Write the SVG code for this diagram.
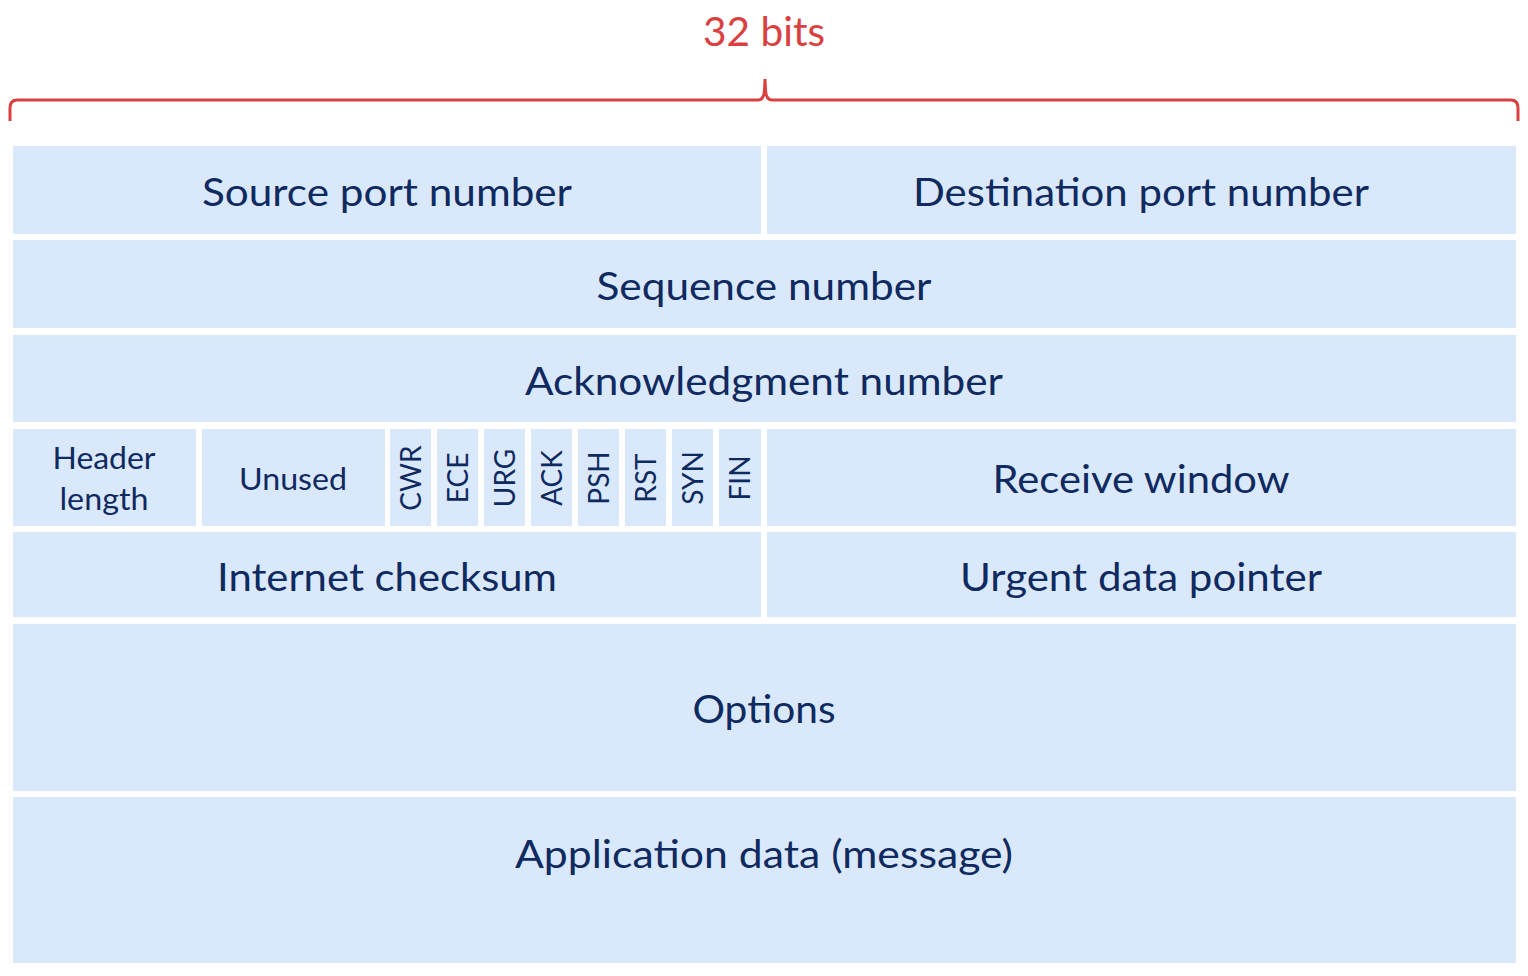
<svg xmlns="http://www.w3.org/2000/svg" width="1528" height="976" viewBox="0 0 1528 976">
<style>
.box{fill:#dae8fc;}
.t{font-family:Lato,"Open Sans","Liberation Sans",sans-serif;fill:#0f2a5f;text-anchor:middle;}
.big{font-size:38px;}
.mid{font-size:31px;}
.flag{font-size:28px;}
.red{font-family:Lato,"Open Sans","Liberation Sans",sans-serif;fill:#d9403f;font-size:40px;text-anchor:middle;}
</style>
<rect width="1528" height="976" fill="#ffffff"/>
<g id="bits-label">
<text class="red" x="764" y="46" textLength="122" lengthAdjust="spacingAndGlyphs">32 bits</text>
<path d="M10 121 L10 108 Q10 100 17 100 L758 100 Q764 100 764.5 90 L765 79 L765.5 90 Q766 100 772 100 L1511 100 Q1518 100 1518 108 L1518 121" fill="none" stroke="#d9403f" stroke-width="3"/>
</g>
<g id="source-port"><rect class="box" x="13" y="146" width="748" height="88"/><text class="t big" x="387" y="206" textLength="370" lengthAdjust="spacingAndGlyphs">Source port number</text></g>
<g id="dest-port"><rect class="box" x="767" y="146" width="749" height="88"/><text class="t big" x="1141" y="206" textLength="456" lengthAdjust="spacingAndGlyphs">Destination port number</text></g>
<g id="sequence"><rect class="box" x="13" y="240" width="1503" height="88"/><text class="t big" x="764" y="300" textLength="335" lengthAdjust="spacingAndGlyphs">Sequence number</text></g>
<g id="ack-number"><rect class="box" x="13" y="335" width="1503" height="87"/><text class="t big" x="764" y="395" textLength="478" lengthAdjust="spacingAndGlyphs">Acknowledgment number</text></g>
<g id="header-length"><rect class="box" x="13" y="429" width="183" height="97"/><text class="t mid" x="104" y="469" textLength="103" lengthAdjust="spacingAndGlyphs">Header</text><text class="t mid" x="104" y="510" textLength="89" lengthAdjust="spacingAndGlyphs">length</text></g>
<g id="unused"><rect class="box" x="202" y="429" width="183" height="97"/><text class="t mid" x="293" y="490" textLength="108" lengthAdjust="spacingAndGlyphs">Unused</text></g>
<g id="cwr"><rect class="box" x="390" y="429" width="41" height="97"/><text class="t flag" transform="translate(421 478) rotate(-90)">CWR</text></g>
<g id="ece"><rect class="box" x="437" y="429" width="41" height="97"/><text class="t flag" transform="translate(468 478) rotate(-90)">ECE</text></g>
<g id="urg"><rect class="box" x="484" y="429" width="41" height="97"/><text class="t flag" transform="translate(515 478) rotate(-90)">URG</text></g>
<g id="ack"><rect class="box" x="531" y="429" width="41" height="97"/><text class="t flag" transform="translate(562 478) rotate(-90)">ACK</text></g>
<g id="psh"><rect class="box" x="578" y="429" width="41" height="97"/><text class="t flag" transform="translate(609 478) rotate(-90)">PSH</text></g>
<g id="rst"><rect class="box" x="625" y="429" width="41" height="97"/><text class="t flag" transform="translate(656 478) rotate(-90)">RST</text></g>
<g id="syn"><rect class="box" x="672" y="429" width="41" height="97"/><text class="t flag" transform="translate(703 478) rotate(-90)">SYN</text></g>
<g id="fin"><rect class="box" x="719" y="429" width="42" height="97"/><text class="t flag" transform="translate(750 478) rotate(-90)">FIN</text></g>
<g id="receive-window"><rect class="box" x="767" y="429" width="749" height="97"/><text class="t big" x="1141" y="493" textLength="297" lengthAdjust="spacingAndGlyphs">Receive window</text></g>
<g id="checksum"><rect class="box" x="13" y="532" width="748" height="85"/><text class="t big" x="387" y="591" textLength="340" lengthAdjust="spacingAndGlyphs">Internet checksum</text></g>
<g id="urgent"><rect class="box" x="767" y="532" width="749" height="85"/><text class="t big" x="1141" y="591" textLength="362" lengthAdjust="spacingAndGlyphs">Urgent data pointer</text></g>
<g id="options"><rect class="box" x="13" y="624" width="1503" height="167"/><text class="t big" x="764" y="723" textLength="143" lengthAdjust="spacingAndGlyphs">Options</text></g>
<g id="app-data"><rect class="box" x="13" y="797" width="1503" height="166"/><text class="t big" x="764" y="868" textLength="498" lengthAdjust="spacingAndGlyphs">Application data (message)</text></g>
</svg>
